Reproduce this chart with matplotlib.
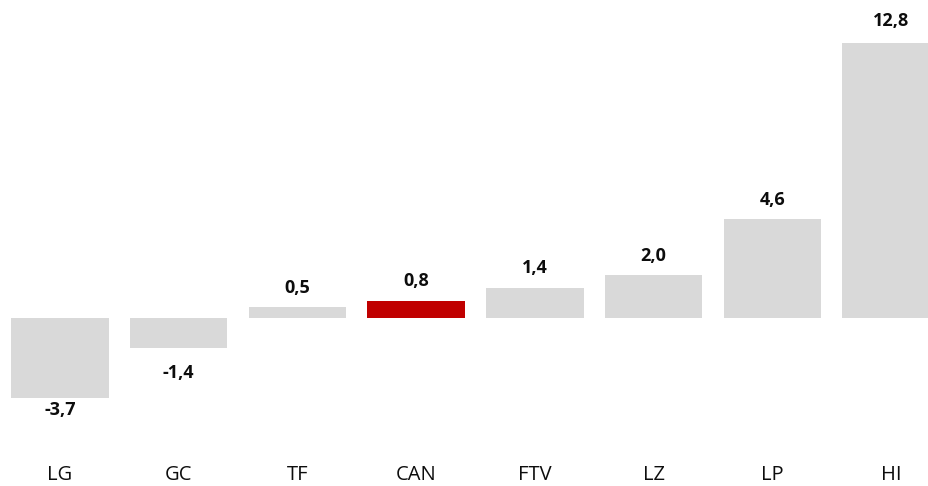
import matplotlib
matplotlib.use('Agg')
import matplotlib.pyplot as plt
import matplotlib.transforms as mtransforms

# data
categories = ['LG', 'GC', 'TF', 'CAN', 'FTV', 'LZ', 'LP', 'HI']
values = [-3.7, -1.4, 0.5, 0.8, 1.4, 2.0, 4.6, 12.8]
highlight = 'CAN'
# label gap from bar end, in points (as in the reference)
label_gap = [9, 18, 14, 14, 14, 14, 14, 16]

fig = plt.figure(figsize=(9.29, 4.86), dpi=100)
ax = fig.add_axes([0, 0, 1, 1])

x = list(range(len(categories)))
colors = ['#C00000' if c == highlight else '#D9D9D9' for c in categories]
bars = ax.bar(x, values, width=0.82, color=colors, zorder=2)

ax.set_xlim(-0.505, 7.32)
ax.set_ylim(-7.81, 14.79)
ax.axis('off')

for bar, v, g in zip(bars, values, label_gap):
    txt = f'{v:.1f}'.replace('.', ',')
    cx = bar.get_x() + bar.get_width() / 2
    off = g if v >= 0 else -g
    ax.annotate(txt, (cx, v), xytext=(0, off), textcoords='offset points',
                ha='center', va='center', fontsize=13, fontweight='bold',
                family='Open Sans', color='#0d0d0d')

trans = mtransforms.blended_transform_factory(ax.transData, ax.transAxes)
for i, c in zip(x, categories):
    ax.text(i, 0.022, c, transform=trans, ha='center', va='center',
            fontsize=14.5, family='Open Sans', color='#0d0d0d')

plt.savefig('out.png', dpi=100)
